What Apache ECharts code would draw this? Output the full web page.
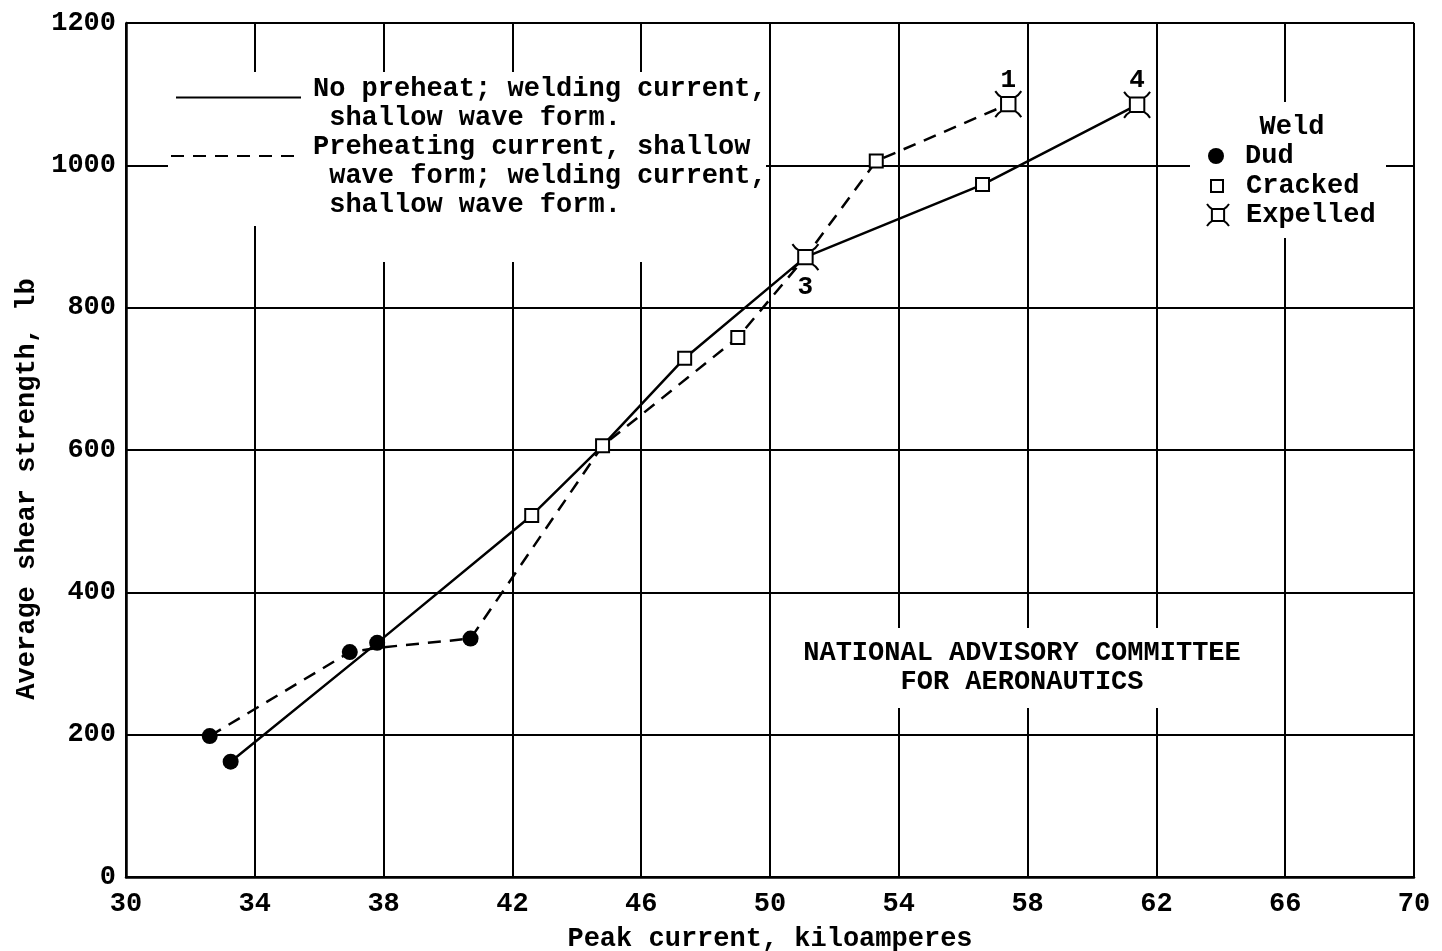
<!DOCTYPE html>
<html>
<head>
<meta charset="utf-8">
<title>Average shear strength vs peak current</title>
<script src="https://cdn.jsdelivr.net/npm/echarts@6.0.0/dist/echarts.min.js"></script>
<style>
  html, body { margin: 0; padding: 0; background: #fff; }
  #chart { width: 1442px; height: 951px; }
</style>
</head>
<body>
<div id="chart"></div>
<script>
// No preheat; welding current, shallow wave form (solid)
const solidX = [33.25, 37.8, 42.6, 44.8, 47.35, 51.1, 56.6, 61.4];
const solidY = [162, 329, 508, 606, 729, 871, 973, 1085];

// Preheating current + welding current, shallow wave form (dashed)
const dashX = [32.6, 36.95, 37.8, 40.7, 44.8, 49.0, 51.1, 53.3, 57.4];
const dashY = [198, 316, 322, 335, 606, 758, 871, 1006, 1086];

// weld condition markers
const dudX = [32.6, 33.25, 36.95, 37.8, 40.7];
const dudY = [198, 162, 316, 329, 335];
const crackedX = [42.6, 44.8, 47.35, 49.0, 53.3, 56.6];
const crackedY = [508, 606, 729, 758, 1006, 973];
const expelledX = [51.1, 57.4, 61.4];
const expelledY = [871, 1086, 1085];
const expelledTag = ['3', '1', '4'];

const xTicks = [30, 34, 38, 42, 46, 50, 54, 58, 62, 66, 70];
const yTicks = [0, 200, 400, 600, 800, 1000, 1200];

const FONT = "'Liberation Mono', 'DejaVu Sans Mono', monospace";
const expelledPath = 'path://M-5 -5 L5 -5 L5 5 L-5 5 Z M-5 -5 Q-7 -6 -9 -9 M5 -5 Q7 -6 9 -9 M5 5 Q7 6 9 9 M-5 5 Q-7 6 -9 9';

const pairs = (xs, ys) => xs.map((x, i) => [x, ys[i]]);
const txt = (extra) => Object.assign({ fontFamily: FONT, fontWeight: 'bold', fontSize: 27, color: '#000' }, extra);

// multi-line legend text; a thin leading line lifts the first row above the line sample
const legendRich = (lift) => ({
  pad: { fontSize: 4, lineHeight: lift },
  t: txt({ lineHeight: 29 }),
});
const legendText = (lines) => `{pad| }\n${lines.map((l) => `{t|${l}}`).join('\n')}`;

const chart = echarts.init(document.getElementById('chart'));

const opts = {
  backgroundColor: '#fff',
  animation: false,
  grid: { left: 126, right: 28, top: 23, bottom: 74, outerBoundsMode: 'none', containLabel: false },
  xAxis: {
    type: 'value',
    min: xTicks[0],
    max: xTicks[xTicks.length - 1],
    interval: 4,
    name: 'Peak current, kiloamperes',
    nameLocation: 'middle',
    nameGap: 49,
    nameTextStyle: txt(),
    axisLine: { show: true, onZero: false, lineStyle: { color: '#000', width: 2.5 } },
    axisTick: { show: false },
    axisLabel: txt({ margin: 14, formatter: (v) => String(v) }),
    splitLine: { show: true, lineStyle: { color: '#000', width: 2 } },
  },
  yAxis: {
    type: 'value',
    min: yTicks[0],
    max: yTicks[yTicks.length - 1],
    interval: 200,
    name: 'Average shear strength, lb',
    nameLocation: 'middle',
    nameGap: 62,
    nameTextStyle: txt({ padding: [0, 78, 0, 0] }),
    axisLine: { show: true, lineStyle: { color: '#000', width: 2.5 } },
    axisTick: { show: false },
    axisLabel: txt({ margin: 10, formatter: (v) => String(v) }),
    splitLine: { show: true, lineStyle: { color: '#000', width: 2 } },
  },
  legend: [
    {
      data: ['No preheat'],
      selectedMode: false,
      orient: 'vertical',
      left: 175,
      top: 66.5,
      padding: 0,
      itemWidth: 125,
      itemHeight: 14,
      itemStyle: { color: 'rgba(0,0,0,0)', borderWidth: 0 },
      formatter: () => legendText(['No preheat; welding current,', ' shallow wave form.']),
      textStyle: txt({ padding: [0, 0, 0, 7], rich: legendRich(13) }),
    },
    {
      data: ['Preheating'],
      selectedMode: false,
      orient: 'vertical',
      left: 170,
      top: 110.5,
      padding: 0,
      itemWidth: 130,
      itemHeight: 14,
      itemStyle: { color: 'rgba(0,0,0,0)', borderWidth: 0 },
      formatter: () => legendText(['Preheating current, shallow', ' wave form; welding current,', ' shallow wave form.']),
      textStyle: txt({ padding: [0, 0, 0, 7], rich: legendRich(40) }),
    },
    {
      data: ['Dud'],
      selectedMode: false,
      left: 1208,
      top: 141.5,
      padding: 0,
      itemWidth: 16,
      itemHeight: 16,
      textStyle: txt({ lineHeight: 29, padding: [0, 0, 0, 16] }),
    },
    {
      data: ['Cracked'],
      selectedMode: false,
      left: 1210,
      top: 171.5,
      padding: 0,
      itemWidth: 12,
      itemHeight: 12,
      itemStyle: { borderWidth: 2 },
      textStyle: txt({ lineHeight: 29, padding: [0, 0, 0, 18] }),
    },
    {
      data: ['Expelled'],
      selectedMode: false,
      left: 1206,
      top: 200.5,
      padding: 0,
      itemWidth: 22,
      itemHeight: 22,
      itemStyle: { borderWidth: 2 },
      textStyle: txt({ lineHeight: 29, padding: [0, 0, 0, 12] }),
    },
  ],
  graphic: {
    elements: [
      // paper patches where the grid is broken behind the lettering
      { type: 'rect', z: 1, silent: true, shape: { x: 168, y: 72, width: 598, height: 154 }, style: { fill: '#fff' } },
      { type: 'rect', z: 1, silent: true, shape: { x: 300, y: 226, width: 466, height: 36 }, style: { fill: '#fff' } },
      { type: 'rect', z: 1, silent: true, shape: { x: 1190, y: 102, width: 196, height: 136 }, style: { fill: '#fff' } },
      { type: 'rect', z: 1, silent: true, shape: { x: 790, y: 628, width: 465, height: 80 }, style: { fill: '#fff' } },
      {
        type: 'text', z: 10, silent: true, x: 1292, y: 127,
        style: txt({ text: 'Weld', align: 'center', verticalAlign: 'middle', fill: '#000' }),
      },
      {
        type: 'text', z: 10, silent: true, x: 1022, y: 668,
        style: txt({
          text: 'NATIONAL ADVISORY COMMITTEE\nFOR AERONAUTICS',
          align: 'center', verticalAlign: 'middle', lineHeight: 29, fill: '#000',
        }),
      },
    ],
  },
  series: [
    {
      name: 'No preheat',
      type: 'line',
      data: pairs(solidX, solidY),
      symbol: 'none',
      z: 3,
      lineStyle: { color: '#000', width: 2.5, type: 'solid' },
      itemStyle: { color: '#000' },
    },
    {
      name: 'Preheating',
      type: 'line',
      data: pairs(dashX, dashY),
      symbol: 'none',
      z: 3,
      lineStyle: { color: '#000', width: 2.5, type: [13, 9] },
      itemStyle: { color: '#000' },
    },
    {
      name: 'Dud',
      type: 'scatter',
      data: pairs(dudX, dudY),
      symbol: 'circle',
      symbolSize: 16,
      z: 5,
      itemStyle: { color: '#000', opacity: 1 },
    },
    {
      name: 'Cracked',
      type: 'scatter',
      data: pairs(crackedX, crackedY),
      symbol: 'rect',
      symbolSize: 13,
      z: 5,
      itemStyle: { color: '#fff', borderColor: '#000', borderWidth: 2, opacity: 1 },
    },
    {
      name: 'Expelled',
      type: 'scatter',
      data: expelledX.map((x, i) => ({
        value: [x, expelledY[i]],
        label: { position: i === 0 ? 'bottom' : 'top', distance: i === 0 ? 3 : -3 },
      })),
      symbol: expelledPath,
      symbolSize: 26,
      z: 5,
      itemStyle: { color: '#fff', borderColor: '#000', borderWidth: 2, opacity: 1 },
      label: {
        show: true,
        formatter: (p) => expelledTag[p.dataIndex],
        fontFamily: FONT,
        fontWeight: 'bold',
        fontSize: 26,
        color: '#000',
      },
    },
  ],
};

chart.setOption(opts);
</script>
</body>
</html>
